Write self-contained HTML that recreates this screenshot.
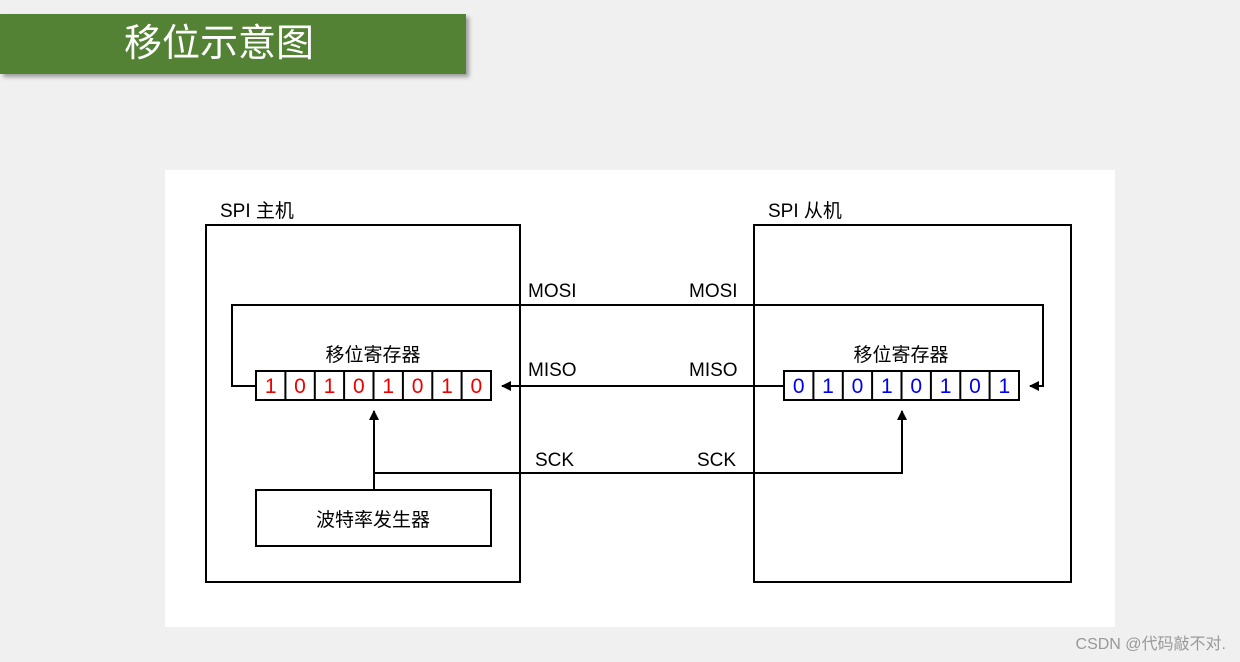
<!DOCTYPE html>
<html><head><meta charset="utf-8"><style>
body{margin:0;width:1240px;height:662px;background:#f0f0f0;position:relative;overflow:hidden;font-family:"Liberation Sans","Noto Sans CJK SC",sans-serif}
.title{position:absolute;left:0;top:14px;width:466px;height:60px;background:#548235;box-shadow:3px 3px 4px rgba(0,0,0,.35);color:#fff;font-size:38px;line-height:60px;padding-left:124px;box-sizing:border-box}
.panel{position:absolute;left:165px;top:170px;width:950px;height:457px;background:#fff}
.wm{position:absolute;right:14px;bottom:8px;color:#999;font-size:16px}
</style></head><body>
<div class="title">移位示意图</div>
<div class="panel"></div>
<svg style="position:absolute;left:0;top:0" width="1240" height="662" font-family="Liberation Sans, Noto Sans CJK SC, sans-serif">
<defs><marker id="a" markerWidth="10" markerHeight="10" refX="9" refY="5" orient="auto" markerUnits="userSpaceOnUse"><path d="M0,0 L10,5 L0,10 Z" fill="#000"/></marker></defs>
<g fill="none" stroke="#000" stroke-width="2">
<rect x="206" y="225" width="314" height="357"/>
<rect x="754" y="225" width="317" height="357"/>
<rect x="256" y="490" width="235" height="56"/>
<path d="M256,386 H232 V305 H1043 V386 H1030" marker-end="url(#a)"/>
<path d="M784,386 H502" marker-end="url(#a)"/>
<path d="M374,490 V411" marker-end="url(#a)"/>
<path d="M374,473 H902 V411" marker-end="url(#a)"/>
</g>
<g font-size="19" fill="#000">
<text x="220" y="217">SPI 主机</text>
<text x="768" y="217">SPI 从机</text>
<text x="528" y="297">MOSI</text><text x="689" y="297">MOSI</text>
<text x="528" y="376">MISO</text><text x="689" y="376">MISO</text>
<text x="535" y="466">SCK</text><text x="697" y="466">SCK</text>
<text x="373" y="361" text-anchor="middle">移位寄存器</text>
<text x="901" y="361" text-anchor="middle">移位寄存器</text>
<text x="373" y="526" text-anchor="middle">波特率发生器</text>
</g>
<g fill="#fff" stroke="#000" stroke-width="2">
<rect x="256" y="371" width="235" height="29"/><rect x="784" y="371" width="235" height="29"/>
</g>
<g stroke="#000" stroke-width="2">
<path d="M285.4,371V400M314.8,371V400M344.1,371V400M373.5,371V400M402.9,371V400M432.3,371V400M461.6,371V400"/>
<path d="M813.4,371V400M842.8,371V400M872.1,371V400M901.5,371V400M930.9,371V400M960.3,371V400M989.6,371V400"/>
</g>
<g font-size="21" text-anchor="middle" fill="#e00">
<text x="270.7" y="393">1</text><text x="300" y="393">0</text><text x="329.5" y="393">1</text><text x="358.8" y="393">0</text><text x="388.2" y="393">1</text><text x="417.6" y="393">0</text><text x="447" y="393">1</text><text x="476.3" y="393">0</text>
</g>
<g font-size="21" text-anchor="middle" fill="#00e">
<text x="798.7" y="393">0</text><text x="828" y="393">1</text><text x="857.5" y="393">0</text><text x="886.8" y="393">1</text><text x="916.2" y="393">0</text><text x="945.6" y="393">1</text><text x="975" y="393">0</text><text x="1004.3" y="393">1</text>
</g>
</svg>
<div class="wm">CSDN @代码敲不对.</div>
</body></html>
